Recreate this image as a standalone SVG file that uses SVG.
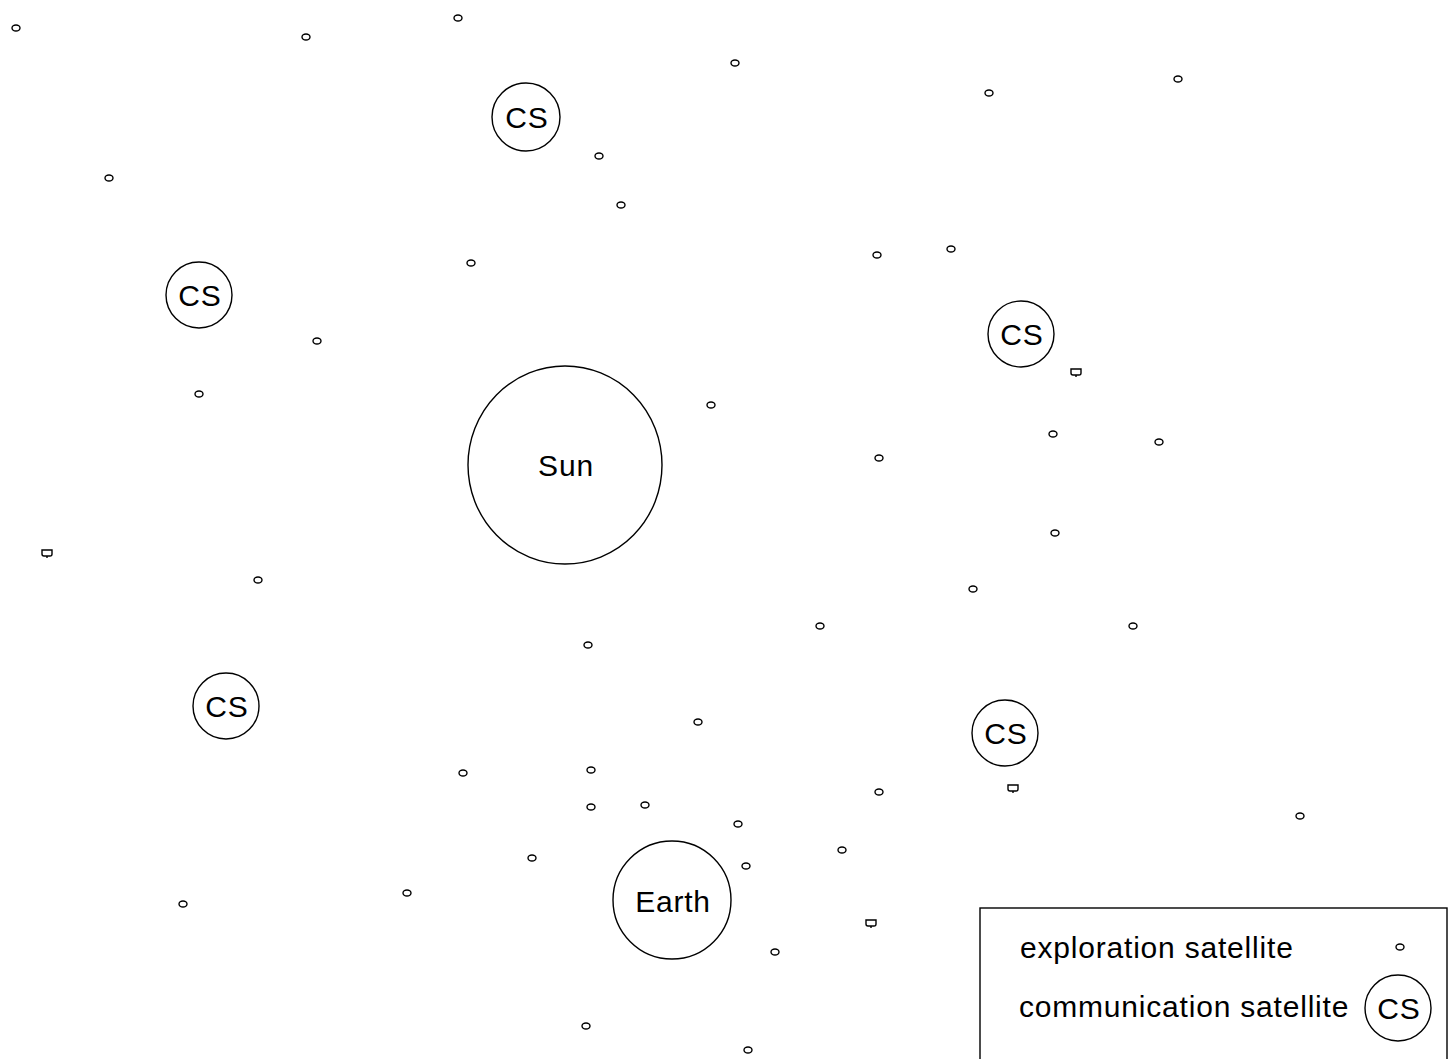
<svg xmlns="http://www.w3.org/2000/svg" width="1454" height="1059" viewBox="0 0 1454 1059">
<style>
.o{fill:none;stroke:#000;stroke-width:1.4}
.t{font-family:"Liberation Sans",Arial,sans-serif;font-size:30px;letter-spacing:0.8px;fill:#000}
.m{text-anchor:middle}
</style>
<defs>
<ellipse id="es" cx="0" cy="0" rx="4" ry="3" class="o"/>
<path id="cup" class="o" d="M-5,-3 H5 V1 Q5,3 3,3 H-3 Q-5,3 -5,1 Z M0,3 V5"/>
</defs>
<rect width="1454" height="1059" fill="#fff"/>
<g id="connectors"></g>
<g id="sun"><ellipse class="o" cx="565" cy="465" rx="97" ry="99"/><text class="t m" x="566" y="476">Sun</text></g>
<g id="earth"><circle class="o" cx="672" cy="900" r="59"/><text class="t m" x="673" y="912">Earth</text></g>
<g id="cs1"><circle class="o" cx="526" cy="117" r="34"/><text class="t m" x="527" y="128">CS</text></g>
<g id="cs2"><circle class="o" cx="199" cy="295" r="33"/><text class="t m" x="200" y="306">CS</text></g>
<g id="cs3"><circle class="o" cx="1021" cy="334" r="33"/><text class="t m" x="1022" y="345">CS</text></g>
<g id="cs4"><circle class="o" cx="226" cy="706" r="33"/><text class="t m" x="227" y="717">CS</text></g>
<g id="cs5"><circle class="o" cx="1005" cy="733" r="33"/><text class="t m" x="1006" y="744">CS</text></g>
<g id="exploration-satellites">
<use href="#es" x="16" y="28"/><use href="#es" x="306" y="37"/><use href="#es" x="458" y="18"/><use href="#es" x="735" y="63"/>
<use href="#es" x="989" y="93"/><use href="#es" x="1178" y="79"/><use href="#es" x="599" y="156"/><use href="#es" x="621" y="205"/>
<use href="#es" x="109" y="178"/><use href="#es" x="471" y="263"/><use href="#es" x="877" y="255"/><use href="#es" x="951" y="249"/>
<use href="#es" x="317" y="341"/><use href="#es" x="199" y="394"/><use href="#es" x="711" y="405"/><use href="#es" x="1053" y="434"/>
<use href="#es" x="1159" y="442"/><use href="#es" x="879" y="458"/><use href="#es" x="1055" y="533"/><use href="#es" x="258" y="580"/>
<use href="#es" x="973" y="589"/><use href="#es" x="820" y="626"/><use href="#es" x="1133" y="626"/><use href="#es" x="588" y="645"/>
<use href="#es" x="698" y="722"/><use href="#es" x="463" y="773"/><use href="#es" x="591" y="770"/><use href="#es" x="591" y="807"/>
<use href="#es" x="645" y="805"/><use href="#es" x="738" y="824"/><use href="#es" x="879" y="792"/><use href="#es" x="842" y="850"/>
<use href="#es" x="532" y="858"/><use href="#es" x="746" y="866"/><use href="#es" x="183" y="904"/><use href="#es" x="407" y="893"/>
<use href="#es" x="775" y="952"/><use href="#es" x="586" y="1026"/><use href="#es" x="748" y="1050"/><use href="#es" x="1300" y="816"/>
<use href="#cup" x="1076" y="372"/><use href="#cup" x="47" y="553"/><use href="#cup" x="1013" y="788"/><use href="#cup" x="871" y="923"/>
</g>
<g id="legend">
<rect class="o" x="980" y="908" width="467" height="160"/>
<text class="t" x="1020" y="958">exploration satellite</text>
<use href="#es" x="1400" y="947"/>
<text class="t" x="1019" y="1017">communication satellite</text>
<circle class="o" cx="1398" cy="1008" r="33"/><text class="t m" x="1399" y="1019">CS</text>
</g>
</svg>
